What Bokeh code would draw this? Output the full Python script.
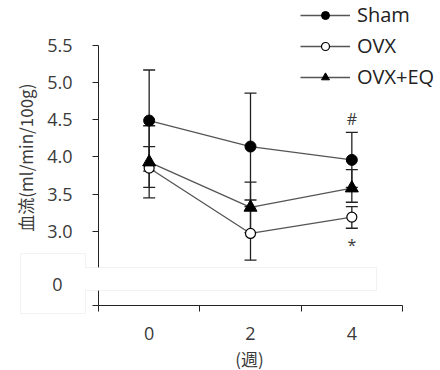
import math
from bokeh.plotting import figure
from bokeh.models import (FixedTicker, Legend, LegendItem, BoxAnnotation, Label,
                          LinearAxis)
from bokeh.core.properties import value
from bokeh.embed import file_html
from bokeh.resources import INLINE

weeks = [0, 2, 4]
week_labels = ["0", "2", "4"]

sham = [4.49, 4.14, 3.96]
sham_hi = [5.17, 4.86, 4.33]
sham_lo = [3.81, 3.42, 3.59]

ovx = [3.85, 2.97, 3.19]
ovx_hi = [4.14, 3.33, 3.33]
ovx_lo = [3.59, 2.61, 3.04]

eq = [3.93, 3.32, 3.58]
eq_hi = [4.42, 3.66, 3.83]
eq_lo = [3.45, 2.98, 3.39]

y_ticks = [2.0, 2.5, 3.0, 3.5, 4.0, 4.5, 5.0, 5.5]
y_tick_labels = ["", "", "3.0", "3.5", "4.0", "4.5", "5.0", "5.5"]
mark_x = [4, 4]
mark_y = [4.51, 2.82]
mark_text = ["#", "*"]

FONT = "Open Sans"
JFONT = "Noto Sans CJK JP"
TXT = "#3a3a3a"
LINE = "#555555"
AX = "#222222"

W, H = 440, 370
# pixel layout of the plotting area: x -1..5 spans px 98..402, y 2.0..5.5 spans px 305..45
XL, XR, XMIN, XMAX = 98, 402, -1, 5
YT, YB, YMIN, YMAX = 45, 305, 2.0, 5.5
kx = (XMAX - XMIN) / (XR - XL)
ky = (YMAX - YMIN) / (YB - YT)
x_range = (XMIN - XL * kx, XMAX + (W - XR) * kx)
y_range = (YMIN - (H - YB) * ky, YMAX + YT * ky)

p = figure(width=W, height=H, x_range=x_range, y_range=y_range,
           x_axis_type=None, y_axis_type=None,
           output_backend="svg", toolbar_location=None, min_border=0)
p.grid.visible = False
p.outline_line_color = None
p.background_fill_color = "white"
p.border_fill_color = "white"

xaxis = LinearAxis(fixed_location=YMIN, bounds=(XMIN, XMAX),
                   ticker=FixedTicker(ticks=weeks, minor_ticks=[-1, 1, 3, 5]))
xaxis.major_label_overrides = {w: l for w, l in zip(weeks, week_labels)}
xaxis.major_tick_out = 0
xaxis.major_tick_in = 0
xaxis.minor_tick_out = 6
xaxis.minor_tick_in = 0
xaxis.major_label_standoff = 15

yaxis = LinearAxis(fixed_location=XMIN, bounds=(YMIN, YMAX),
                   ticker=FixedTicker(ticks=y_ticks, minor_ticks=[]))
yaxis.major_label_overrides = {t: l for t, l in zip(y_ticks, y_tick_labels)}
yaxis.major_tick_out = 6
yaxis.major_tick_in = 0
yaxis.minor_tick_out = 0
yaxis.major_label_standoff = 20

for ax in (xaxis, yaxis):
    ax.major_label_text_font = FONT
    ax.major_label_text_font_size = "18px"
    ax.major_label_text_color = TXT
    ax.axis_line_color = AX
    ax.major_tick_line_color = AX
    ax.minor_tick_line_color = AX
p.add_layout(xaxis, "below")
p.add_layout(yaxis, "left")

# error bars
for lo, hi in ((sham_lo, sham_hi), (ovx_lo, ovx_hi), (eq_lo, eq_hi)):
    p.segment(x0=weeks, y0=lo, x1=weeks, y1=hi, line_color=AX, line_width=1.3)
    p.scatter(x=weeks, y=lo, marker="dash", size=12, line_color=AX, line_width=1.3)
    p.scatter(x=weeks, y=hi, marker="dash", size=12, line_color=AX, line_width=1.3)

# lines + markers
l1 = p.line(weeks, sham, line_color=LINE, line_width=1.3)
l2 = p.line(weeks, ovx, line_color=LINE, line_width=1.3)
l3 = p.line(weeks, eq, line_color=LINE, line_width=1.3)
m1 = p.scatter(weeks, sham, marker="circle", size=11, fill_color="black", line_color="black")
m2 = p.scatter(weeks, ovx, marker="circle", size=10, fill_color="white", line_color="black", line_width=1.2)
m3 = p.scatter(weeks, eq, marker="triangle", size=13, fill_color="black", line_color="black")

p.text(x=mark_x, y=mark_y, text=mark_text, text_align="center", text_baseline="middle",
       text_font=value(FONT), text_font_size="16px", text_color=TXT)

legend = Legend(items=[LegendItem(label="Sham", renderers=[l1, m1]),
                       LegendItem(label="OVX", renderers=[l2, m2]),
                       LegendItem(label="OVX+EQ", renderers=[l3, m3])],
                location=(300, 280), orientation="vertical",
                glyph_width=50, glyph_height=20, label_height=20, spacing=4,
                label_standoff=7, padding=0, margin=0,
                background_fill_alpha=0, border_line_color=None,
                label_text_font=FONT, label_text_font_size="20px", label_text_color="#222222")
p.add_layout(legend)

# axis-break overlay
def cbox(l, r, t, b, line):
    return BoxAnnotation(left=l, right=r, top=t, bottom=b,
                         left_units="canvas", right_units="canvas",
                         top_units="canvas", bottom_units="canvas",
                         fill_color="white", fill_alpha=1, line_color=line, line_width=1)

p.add_layout(cbox(70, 376, 267, 290, "#d4d4d4"))
p.add_layout(cbox(20, 85, 253, 313, "#d4d4d4"))
p.add_layout(cbox(83, 88, 268, 289, None))
p.add_layout(Label(x=57, y=284, x_units="canvas", y_units="canvas", text="0",
                   text_align="center", text_baseline="middle", text_font=FONT,
                   text_font_size="18px", text_color=TXT))
p.add_layout(Label(x=25, y=157, x_units="canvas", y_units="canvas", text="血流(ml/min/100g)",
                   angle=math.pi / 2, text_align="center", text_baseline="middle",
                   text_font=JFONT, text_font_size="17px", text_color=TXT))
p.add_layout(Label(x=249, y=358, x_units="canvas", y_units="canvas", text="(週)",
                   text_align="center", text_baseline="middle",
                   text_font=JFONT, text_font_size="17px", text_color=TXT))

open("out.html", "w").write(file_html(p, INLINE))
